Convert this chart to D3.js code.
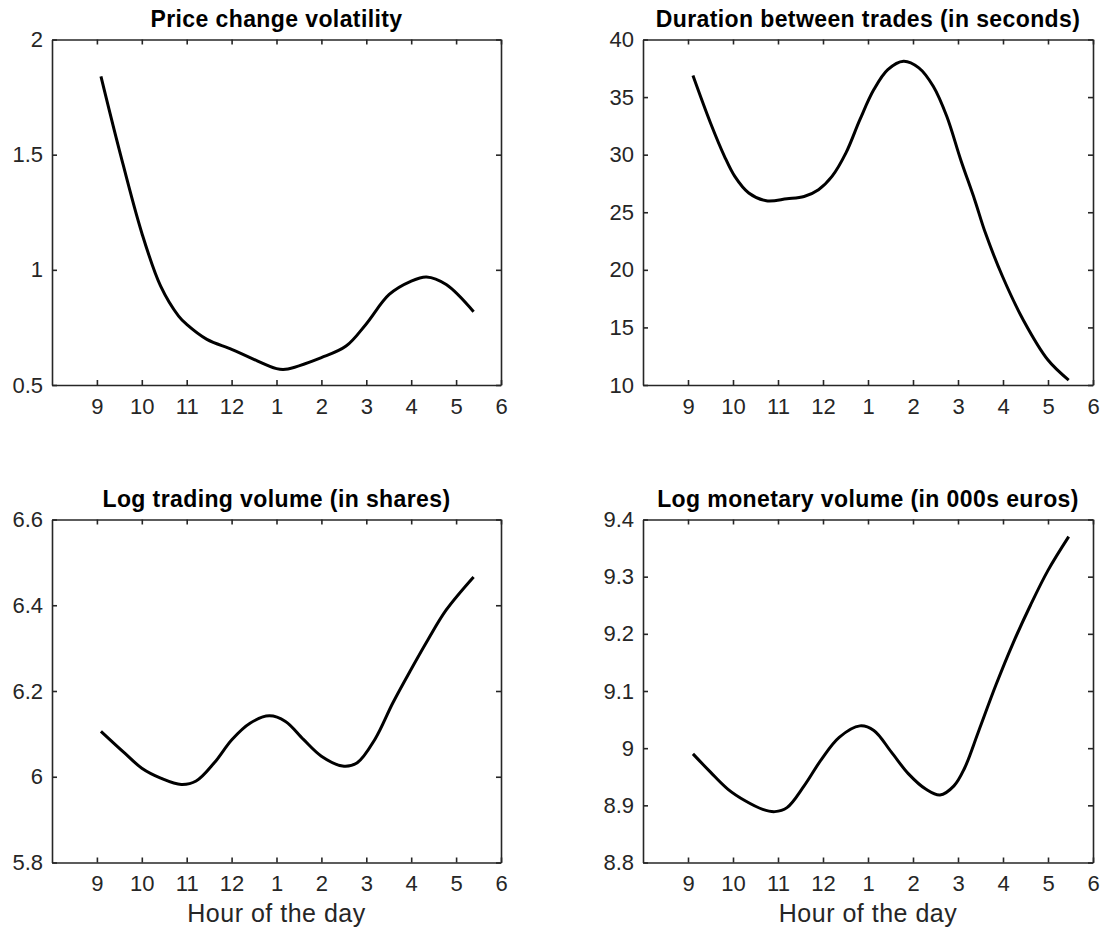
<!DOCTYPE html>
<html>
<head>
<meta charset="utf-8">
<script src="https://cdn.jsdelivr.net/npm/d3@7"></script>
<style>
  html, body { margin: 0; padding: 0; background: #fff; }
  svg { display: block; }
  text { font-family: "Liberation Sans", Arial, Helvetica, sans-serif; }
</style>
</head>
<body>
<svg id="chart" width="1104" height="930"></svg>
<script>
// Intraday patterns, hour of the day on a 24h clock (9 = 9am, 17 = 5pm)
const hourTicks = [9, 10, 11, 12, 13, 14, 15, 16, 17, 18];
const hourLabels = ["9", "10", "11", "12", "1", "2", "3", "4", "5", "6"];

// Price change volatility
const volHours = [9.09, 9.5, 10.0, 10.42, 10.82, 11.0, 11.45, 12.0, 12.41, 13.0, 13.2, 14.0, 14.55, 14.99, 15.51, 15.99, 16.34, 16.78, 17.39];
const volValues = [1.84, 1.52, 1.16, 0.929, 0.799, 0.763, 0.698, 0.655, 0.619, 0.571, 0.568, 0.619, 0.669, 0.763, 0.893, 0.950, 0.969, 0.936, 0.818];
const volTicks = [0.5, 1, 1.5, 2];

// Duration between trades (seconds)
const durHours = [9.11, 9.50, 9.81, 10.04, 10.35, 10.74, 11.20, 11.58, 11.90, 12.20, 12.51, 12.82, 13.13, 13.44, 13.79, 14.13, 14.45, 14.75, 15.06, 15.37, 15.61, 15.99, 16.45, 17.0, 17.46];
const durValues = [36.87, 32.75, 29.86, 28.11, 26.67, 26.0, 26.17, 26.37, 26.96, 28.11, 30.15, 33.04, 35.65, 37.39, 38.12, 37.54, 35.94, 33.33, 29.56, 26.09, 23.19, 19.42, 15.65, 12.17, 10.43];
const durTicks = [10, 15, 20, 25, 30, 35, 40];

// Log trading volume (shares)
const shrHours = [9.09, 9.62, 10.0, 10.42, 10.88, 11.21, 11.61, 12.01, 12.41, 12.84, 13.2, 13.6, 14.0, 14.47, 14.79, 15.19, 15.59, 15.99, 16.37, 16.78, 17.39];
const shrValues = [6.106, 6.055, 6.020, 5.997, 5.982, 5.990, 6.032, 6.087, 6.125, 6.142, 6.129, 6.087, 6.048, 6.025, 6.032, 6.087, 6.172, 6.249, 6.319, 6.389, 6.466];
const shrTicks = [5.8, 6, 6.2, 6.4, 6.6];

// Log monetary volume (thousands of euros)
const eurHours = [9.11, 9.50, 9.89, 10.27, 10.66, 10.93, 11.20, 11.58, 11.97, 12.36, 12.82, 13.13, 13.52, 13.90, 14.29, 14.60, 14.91, 15.14, 15.45, 15.84, 16.22, 16.61, 17.0, 17.46];
const eurValues = [8.990, 8.958, 8.928, 8.908, 8.893, 8.889, 8.896, 8.934, 8.981, 9.019, 9.039, 9.031, 8.993, 8.955, 8.928, 8.918, 8.934, 8.964, 9.028, 9.11, 9.183, 9.25, 9.311, 9.370];
const eurTicks = [8.8, 8.9, 9, 9.1, 9.2, 9.3, 9.4];

const panels = [
  { title: "Price change volatility", hours: volHours, values: volValues, ticks: volTicks,
    left: 52, right: 501, top: 39.5, bottom: 385, xlabel: false },
  { title: "Duration between trades (in seconds)", hours: durHours, values: durValues, ticks: durTicks,
    left: 643, right: 1093, top: 39.5, bottom: 385, xlabel: false },
  { title: "Log trading volume (in shares)", hours: shrHours, values: shrValues, ticks: shrTicks,
    left: 52, right: 501, top: 519.5, bottom: 862.5, xlabel: true },
  { title: "Log monetary volume (in 000s euros)", hours: eurHours, values: eurValues, ticks: eurTicks,
    left: 643, right: 1093, top: 519.5, bottom: 862.5, xlabel: true }
];

const svg = d3.select("#chart");
const axisColor = "#262626";
const tickLen = 5;

panels.forEach(p => {
  const x = d3.scaleLinear().domain([8, 18]).range([p.left, p.right]);
  const y = d3.scaleLinear().domain(d3.extent(p.ticks)).range([p.bottom, p.top]);
  const g = svg.append("g");

  const labelFor = d => hourLabels[hourTicks.indexOf(d)];

  // bottom axis with labels, inward ticks
  const bottom = g.append("g").attr("transform", `translate(0,${p.bottom})`)
    .call(d3.axisBottom(x).tickValues(hourTicks).tickFormat(labelFor)
      .tickSizeInner(-tickLen).tickSizeOuter(0).tickPadding(13));
  // top axis, ticks only
  const top = g.append("g").attr("transform", `translate(0,${p.top})`)
    .call(d3.axisTop(x).tickValues(hourTicks).tickFormat("")
      .tickSizeInner(-tickLen).tickSizeOuter(0));
  // left axis with labels
  const left = g.append("g").attr("transform", `translate(${p.left},0)`)
    .call(d3.axisLeft(y).tickValues(p.ticks).tickFormat(d3.format("~g"))
      .tickSizeInner(-tickLen).tickSizeOuter(0).tickPadding(9));
  // right axis, ticks only
  const right = g.append("g").attr("transform", `translate(${p.right},0)`)
    .call(d3.axisRight(y).tickValues(p.ticks).tickFormat("")
      .tickSizeInner(-tickLen).tickSizeOuter(0));

  [bottom, top, left, right].forEach(a => {
    a.select(".domain").attr("stroke", axisColor).attr("stroke-width", 1.6);
    a.selectAll(".tick line").attr("stroke", axisColor).attr("stroke-width", 1.6);
    a.selectAll(".tick text").attr("fill", axisColor)
      .style("font-size", "22px").style("font-family", "'Liberation Sans', Arial, sans-serif");
  });

  // data curve
  const pts = p.hours.map((h, i) => [h, p.values[i]]);
  g.append("path")
    .datum(pts)
    .attr("fill", "none")
    .attr("stroke", "#000")
    .attr("stroke-width", 3)
    .attr("stroke-linejoin", "round")
    .attr("d", d3.line().x(d => x(d[0])).y(d => y(d[1])).curve(d3.curveCatmullRom.alpha(0.5)));

  // title
  g.append("text")
    .attr("x", (p.left + p.right) / 2)
    .attr("y", p.top - 12.5)
    .attr("text-anchor", "middle")
    .style("font-size", "23px")
    .style("font-weight", "bold")
    .style("letter-spacing", "0.4px")
    .attr("fill", "#000")
    .text(p.title);

  if (p.xlabel) {
    g.append("text")
      .attr("x", (p.left + p.right) / 2)
      .attr("y", 922)
      .attr("text-anchor", "middle")
      .style("font-size", "25px")
      .style("letter-spacing", "0.5px")
      .attr("fill", axisColor)
      .text("Hour of the day");
  }
});
</script>
</body>
</html>
